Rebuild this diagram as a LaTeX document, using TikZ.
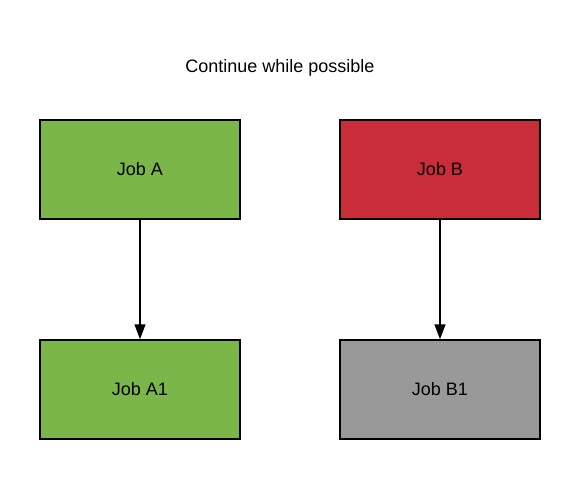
\documentclass[tikz,border=0pt]{standalone}
\usepackage{fontspec}
\setmainfont{Liberation Sans}
\usetikzlibrary{arrows.meta}
\definecolor{jobgreen}{HTML}{7AB648}
\definecolor{jobred}{HTML}{C92D39}
\definecolor{jobgray}{HTML}{999999}
\tikzset{
  job/.style={draw=black, line width=1.5pt, minimum width=200pt, minimum height=99pt, inner sep=0pt, font=\fontsize{18}{21}\selectfont},
  link/.style={-{Triangle[width=11pt,length=15pt]}, line width=1.5pt}
}
\begin{document}
\begin{tikzpicture}[x=1pt, y=-1pt]
      \useasboundingbox (0,0) rectangle (580,480);
      \draw
        (280,68) node[font=\fontsize{18}{21}\selectfont] (title){Continue while possible}
        (140,169.5) node[job, fill=jobgreen] (a){Job A}
        (440,169.5) node[job, fill=jobred] (b){Job B}
        (140,389.5) node[job, fill=jobgreen] (a1){Job A1}
        (440,389.5) node[job, fill=jobgray] (b1){Job B1};
      \begin{scope}[link]
        \draw (a) to (a1);
        \draw (b) to (b1);
      \end{scope}
    \end{tikzpicture}
\end{document}
